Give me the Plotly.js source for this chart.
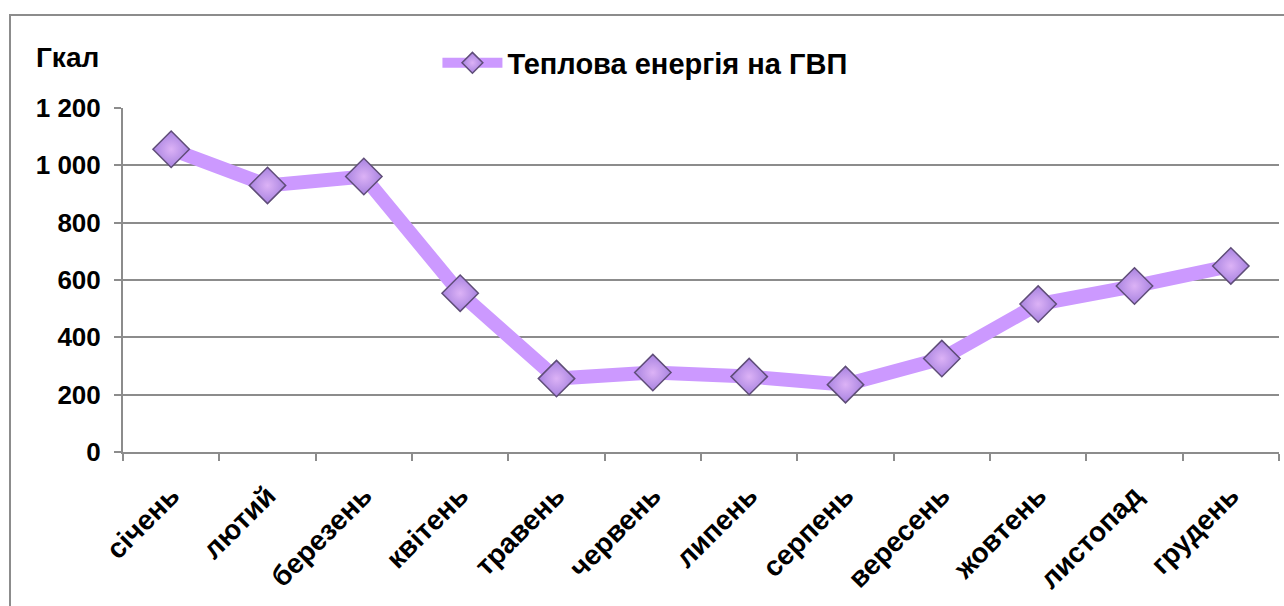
<!DOCTYPE html>
<html><head><meta charset="utf-8">
<script src="https://cdn.plot.ly/plotly-3.0.1.min.js"></script>
<style>
html,body{margin:0;padding:0;width:1284px;height:606px;overflow:hidden;background:#fff;}
#frame{position:absolute;left:9px;top:14px;width:1400px;height:800px;border:2px solid #8c8c8c;box-sizing:border-box;}
#chart{position:absolute;left:0;top:0;width:1284px;height:606px;}
</style></head>
<body>
<div id="frame"></div>
<div id="chart"></div>
<script>
const months = ['січень','лютий','березень','квітень','травень','червень','липень','серпень','вересень','жовтень','листопад','грудень'];
const heatValues = [1056, 930, 961, 554, 256, 277, 263, 235, 326, 516, 579, 649];
const yTicks = [0, 200, 400, 600, 800, 1000, 1200];
const yTickLabels = ['0', '200', '400', '600', '800', '1 000', '1 200'];
const seriesName = 'Теплова енергія на ГВП';
const unitLabel = 'Гкал';

const font = 'Liberation Sans, Arial, sans-serif';
const trace = {
  x: months, y: heatValues, name: seriesName, type: 'scatter', mode: 'lines+markers',
  line: {color: '#cc99ff', width: 14},
  marker: {symbol: 'diamond', size: 28, color: '#a883e0',
    gradient: {type: 'radial', color: '#dcb2f6'},
    line: {color: '#5f4d78', width: 1.5}}
};
const layout = {
  width: 1284, height: 606,
  margin: {l: 123, r: 5, t: 108, b: 154},
  paper_bgcolor: 'rgba(0,0,0,0)', plot_bgcolor: 'rgba(0,0,0,0)',
  font: {family: font, color: '#000'},
  showlegend: true,
  legend: {orientation: 'h', x: 0.272, xanchor: 'left', y: 1.131, yanchor: 'middle', itemwidth: 60,
    font: {family: font, size: 29, color: '#000', weight: 'bold'}, bgcolor: 'rgba(0,0,0,0)'},
  xaxis: {type: 'category', tickangle: -45, tickson: 'boundaries', ticks: 'outside', ticklen: 7,
    tickcolor: '#8c8c8c', tickwidth: 2, showgrid: false, showline: true, linecolor: '#8c8c8c', linewidth: 2,
    ticklabelstandoff: 14,
    tickfont: {family: font, size: 28, weight: 'bold'}, range: [-0.5, 11.5], zeroline: false},
  yaxis: {range: [0, 1200], tickvals: yTicks, ticktext: yTickLabels, ticks: 'outside', ticklen: 7,
    tickcolor: '#8c8c8c', tickwidth: 2, showgrid: true, gridcolor: '#8c8c8c', gridwidth: 2,
    showline: true, linecolor: '#8c8c8c', linewidth: 2, zeroline: false, ticklabelstandoff: 8,
    tickfont: {family: font, size: 26, weight: 'bold'}},
  annotations: [{text: unitLabel, xref: 'paper', yref: 'paper', x: -0.048, y: 1.148, xanchor: 'center', yanchor: 'middle',
    showarrow: false, font: {family: font, size: 28, weight: 'bold', color: '#000'}}]
};
Plotly.newPlot('chart', [trace], layout, {displayModeBar: false, staticPlot: true});
</script>
</body></html>
